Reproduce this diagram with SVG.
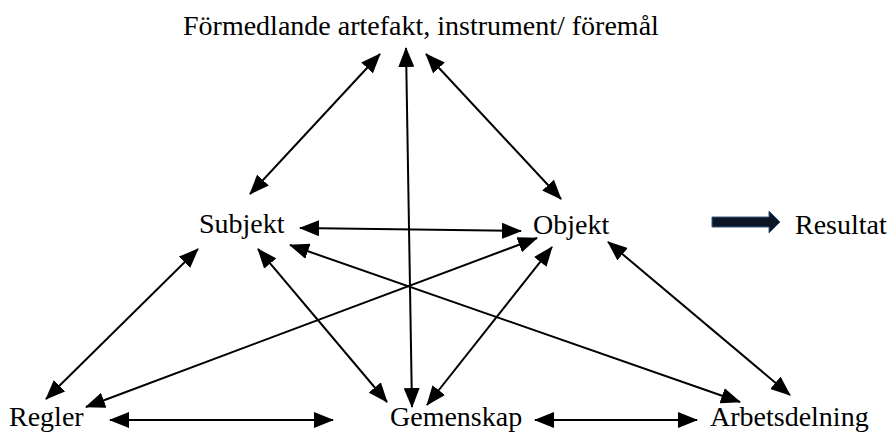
<svg xmlns="http://www.w3.org/2000/svg" width="894" height="434" viewBox="0 0 894 434">
<defs>
<style>
.lbl{font-family:"Liberation Serif","Times New Roman",serif;font-size:28px;fill:#000}
.con{stroke:#000;stroke-width:2;fill:none;marker-start:url(#ah);marker-end:url(#ah)}
</style>
<marker id="ah" viewBox="0 0 20 16" refX="19" refY="8" markerWidth="20" markerHeight="16" markerUnits="userSpaceOnUse" orient="auto-start-reverse">
<path d="M0,0 L20,8 L0,16 z" fill="#000"/>
</marker>
</defs>
<rect width="894" height="434" fill="#fff"/>
<g id="connectors">
<line class="con" x1="250" y1="194" x2="380" y2="54"/>
<line class="con" x1="412" y1="407" x2="406" y2="48"/>
<line class="con" x1="426" y1="54" x2="561" y2="199"/>
<line class="con" x1="300" y1="228" x2="521" y2="231"/>
<line class="con" x1="46" y1="399" x2="198" y2="249"/>
<line class="con" x1="86" y1="407" x2="537" y2="238"/>
<line class="con" x1="258" y1="249" x2="387" y2="402"/>
<line class="con" x1="290" y1="245" x2="740" y2="402"/>
<line class="con" x1="552" y1="247" x2="427" y2="405"/>
<line class="con" x1="608" y1="242" x2="790" y2="395"/>
<line class="con" x1="110" y1="420" x2="333" y2="420"/>
<line class="con" x1="535" y1="420" x2="697" y2="420"/>
<path id="result-arrow" d="M712,217 L769,217 L769,211 L780,222 L769,233 L769,227 L712,227 z" fill="#0b1526" stroke="#3a5a80" stroke-width="1"/>
</g>
<g id="artefakt"><text class="lbl" x="183" y="35">Förmedlande artefakt, instrument/ föremål</text></g>
<g id="subjekt"><text class="lbl" x="199" y="233">Subjekt</text></g>
<g id="objekt"><text class="lbl" x="533" y="234">Objekt</text></g>
<g id="resultat"><text class="lbl" x="795" y="234">Resultat</text></g>
<g id="regler"><text class="lbl" x="9" y="426">Regler</text></g>
<g id="gemenskap"><text class="lbl" x="390" y="426">Gemenskap</text></g>
<g id="arbetsdelning"><text class="lbl" x="710" y="426">Arbetsdelning</text></g>
</svg>
